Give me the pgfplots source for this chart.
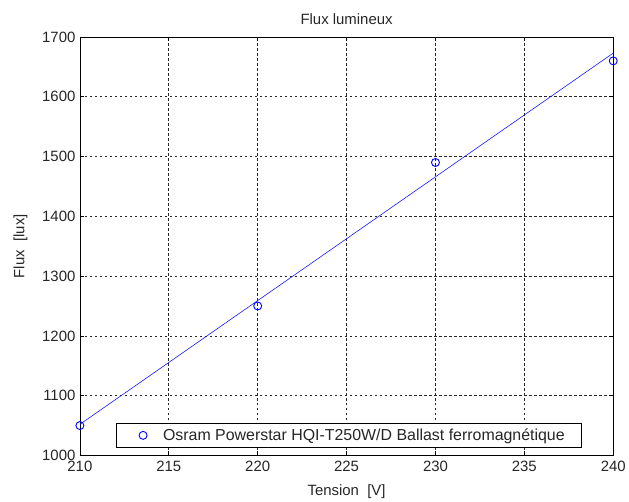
\documentclass[border=0pt]{standalone}
\usepackage{fontspec}
\setmainfont{Liberation Sans}
\usepackage{pgfplots}
\pgfplotsset{compat=1.18}
\newcommand{\ff}{\fontsize{15}{17}\selectfont}
\begin{document}
\begin{tikzpicture}[x=1bp,y=1bp]
\begin{axis}[
  name=ax,
  at={(80bp,46bp)},
  anchor=south west,
  scale only axis,
  width=534bp, height=419bp,
  xmin=210, xmax=240, ymin=1000, ymax=1700,
  xtick={210,215,...,240},
  ytick={1000,1100,...,1700},
  tick align=inside,
  major tick length=4bp,
  grid=major,
  major grid style={black!85, line width=0.6bp, dash pattern=on 2.5bp off 2.5bp},
  axis line style={black, line width=0.8bp},
  tick style={black, line width=0.6bp},
  every tick label/.append style={font=\ff, text=black!85},
  yticklabel style={xshift=-1bp},
  /pgf/number format/assume math mode=true,
  /pgf/number format/1000 sep={},
  xticklabel style={yshift=-2bp},
  title={Flux lumineux},
  title style={font=\ff, text=black!85, yshift=3bp},
  xlabel={Tension\ \ [V]},
  ylabel={Flux\ \ [lux]},
  label style={font=\ff, text=black!85},
  xlabel style={yshift=-6bp},
  ylabel style={yshift=8bp},
  legend style={at={(axis cs:212.02,1053.5)}, anchor=north west, draw=black, line width=0.6bp,
    font=\fontsize{16}{18}\selectfont, text=black!85, inner sep=3bp, row sep=0bp,
    legend cell align=left},
  legend image code/.code={\path[draw=none] (0bp,0bp) -- (42bp,0bp); \draw[#1] (24bp,0bp) circle (4bp);},
]
\addplot[blue!90!white, line width=0.6bp, forget plot] coordinates {(210,1052) (240,1673)};
\addplot[only marks, mark=o, mark size=4bp, draw=blue, line width=0.9bp] coordinates {
(210,1050) (220,1250) (230,1490) (240,1660)};
\addlegendentry{Osram Powerstar HQI-T250W/D Ballast ferromagnétique\rule{12bp}{0bp}}
\end{axis}
\useasboundingbox (0,0) rectangle (629bp,502bp);
\end{tikzpicture}
\end{document}
